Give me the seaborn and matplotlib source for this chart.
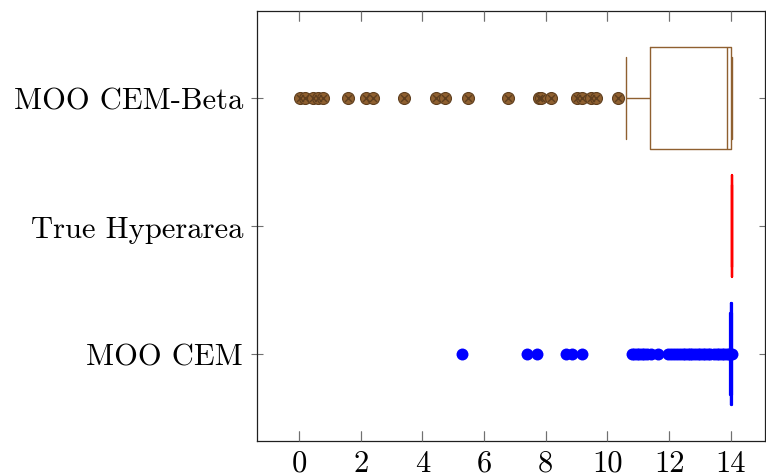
import numpy as np
import pandas as pd
import matplotlib
matplotlib.use("Agg")
import matplotlib.pyplot as plt
import seaborn as sns

# ---- data ----
categories = ["MOO CEM-Beta", "True Hyperarea", "MOO CEM"]

# five-number summaries (lower whisker, Q1, median, Q3, upper whisker)
beta_box = [10.60, 11.38, 13.88, 14.01, 14.05]
true_box = [14.04, 14.04, 14.04, 14.04, 14.04]
cem_box = [13.98, 13.99, 14.01, 14.02, 14.05]

beta_outliers = [0.03, 0.20, 0.46, 0.63, 0.79, 1.58, 2.17, 2.41, 3.41, 4.44,
                 4.73, 5.47, 6.77, 7.79, 7.86, 8.16, 9.00, 9.16, 9.48, 9.62,
                 10.35]
cem_outliers = [5.27, 7.38, 7.73, 8.67, 8.84, 9.16,
                10.78, 10.87, 10.95, 11.03, 11.11, 11.19, 11.27, 11.40, 11.65,
                11.97, 12.05, 12.14, 12.25, 12.35, 12.45, 12.51, 12.60, 12.67,
                12.75, 12.83, 12.92, 13.00, 13.08, 13.16, 13.25, 13.32, 13.45,
                13.54, 13.62, 13.70, 13.78, 13.86, 13.95, 14.02]

xticks = [0, 2, 4, 6, 8, 10, 12, 14]

# ---- style ----
sns.set_style("ticks")
plt.rcParams["font.family"] = ["cmr10", "DejaVu Serif"]
plt.rcParams["axes.formatter.use_mathtext"] = True
plt.rcParams["mathtext.fontset"] = "cm"
plt.rcParams["text.color"] = "black"

brown = "#8f6030"
brown_dark = "#5e3e1e"
tick_color = "#707070"
colors = {"MOO CEM-Beta": brown, "True Hyperarea": "#ff0000", "MOO CEM": "#0000ff"}
lws = {"MOO CEM-Beta": 1.0, "True Hyperarea": 1.6, "MOO CEM": 1.6}

fig = plt.figure(figsize=(7.66, 4.77), dpi=100)
ax = fig.add_axes([0.3355, 0.0734, 0.663, 0.9014])

box_df = pd.DataFrame({
    "cat": np.repeat(categories, 5),
    "val": beta_box + true_box + cem_box,
})

for cat in categories:
    sub = box_df[box_df["cat"] == cat]
    c = colors[cat]
    lw = lws[cat]
    sns.boxplot(data=sub, x="val", y="cat", order=categories, orient="h",
                whis=(0, 100), width=0.8, fill=False, color=c,
                linewidth=lw, showfliers=False, ax=ax,
                boxprops=dict(color=c, linewidth=lw),
                medianprops=dict(color=c, linewidth=lw),
                whiskerprops=dict(color=c, linewidth=lw),
                capprops=dict(color=c, linewidth=lw),
                capwidths=0.64)

beta_df = pd.DataFrame({"cat": "MOO CEM-Beta", "val": beta_outliers})
cem_df = pd.DataFrame({"cat": "MOO CEM", "val": cem_outliers})

sns.stripplot(data=beta_df, x="val", y="cat", order=categories, orient="h",
              jitter=False, color=brown, size=8.6, linewidth=0.8,
              edgecolor=brown_dark, ax=ax, zorder=3)
sns.stripplot(data=beta_df, x="val", y="cat", order=categories, orient="h",
              jitter=False, color=brown_dark, marker="x", size=5.0,
              linewidth=1.0, ax=ax, zorder=4)
sns.stripplot(data=cem_df, x="val", y="cat", order=categories, orient="h",
              jitter=False, color="#0000ff", size=8.6, linewidth=0,
              ax=ax, zorder=3)

ax.set_xlim(-1.36, 15.1)
ax.set_ylim(2.68, -0.68)
ax.set_xticks(xticks)
ax.set_xticklabels([str(t) for t in xticks])
ax.set_xlabel("")
ax.set_ylabel("")

for s in ax.spines.values():
    s.set_visible(True)
    s.set_color("#202020")
    s.set_linewidth(0.9)

ax.tick_params(axis="x", which="major", direction="in", length=7, width=0.8,
               color=tick_color, labelcolor="black", top=True, bottom=True,
               labelsize=22, pad=6)
ax.tick_params(axis="y", which="major", direction="inout", length=8, width=0.8,
               color=tick_color, labelcolor="black", left=True, right=True,
               labelsize=22, pad=6)

# inward x tick marks on bottom and top edges (axes-fraction in y)
xt = ax.get_xaxis_transform()
ax.vlines(xticks, 0.0, 0.023, transform=xt, colors=tick_color,
          linewidth=0.8, zorder=5, clip_on=False)
ax.vlines(xticks, 0.977, 1.0, transform=xt, colors=tick_color,
          linewidth=0.8, zorder=5, clip_on=False)
ax.set_xlim(-1.36, 15.1)
ax.set_ylim(2.68, -0.68)

fig.savefig("out.png", dpi=100)
